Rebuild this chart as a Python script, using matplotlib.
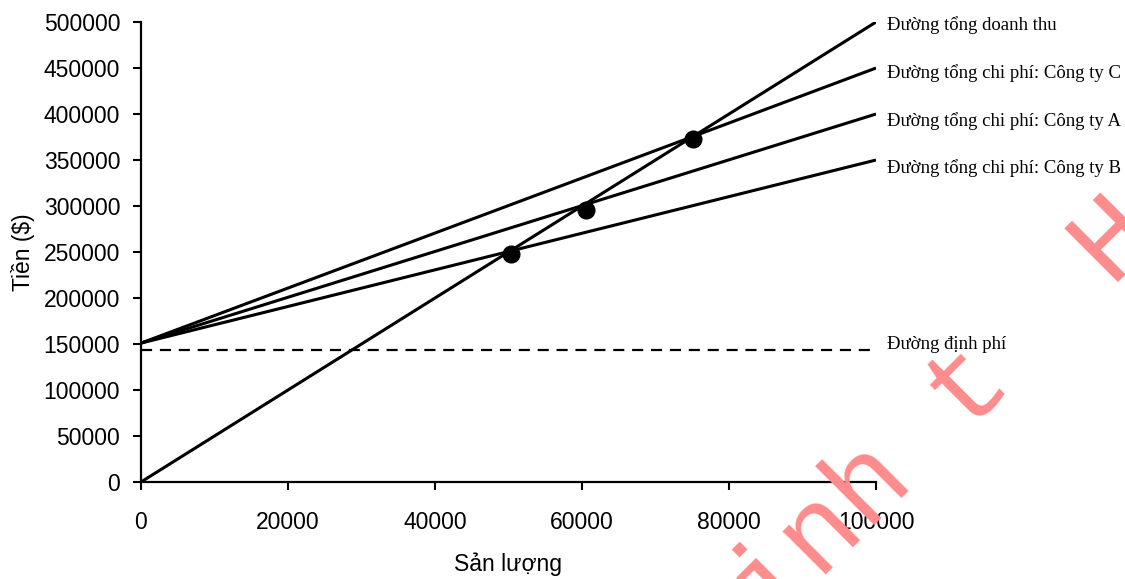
import matplotlib
matplotlib.use("Agg")
import matplotlib.pyplot as plt
import numpy as np

# ---- data ----
quantity = [0, 100000]
revenue = [0, 500000]
cost_C = [151000, 450000]
cost_A = [151000, 400000]
cost_B = [151000, 350000]
fixed_cost = [143000, 143000]
break_even_x = [50400, 60500, 75100]
break_even_y = [247500, 296000, 372500]
labels = ["Đường tổng doanh thu", "Đường tổng chi phí: Công ty C",
          "Đường tổng chi phí: Công ty A", "Đường tổng chi phí: Công ty B",
          "Đường định phí"]
xticks = [0, 20000, 40000, 60000, 80000, 100000]
yticks = list(range(0, 500001, 50000))

fig = plt.figure(figsize=(11.25, 5.79), dpi=100)
ax = fig.add_axes([0.1253, 0.1675, 0.6534, 0.7945])

lw = 2.2
ax.plot(quantity, revenue, color="black", lw=lw, solid_capstyle="butt")
ax.plot(quantity, cost_C, color="black", lw=lw, solid_capstyle="butt")
ax.plot(quantity, cost_A, color="black", lw=lw, solid_capstyle="butt")
ax.plot(quantity, cost_B, color="black", lw=lw, solid_capstyle="butt")
ax.plot(quantity, fixed_cost, color="black", lw=1.6, linestyle=(0, (5, 3.5)))
ax.plot(break_even_x, break_even_y, "o", color="black", markersize=12, zorder=5)

ax.set_xlim(0, 100000)
ax.set_ylim(0, 500000)
ax.set_xticks(xticks)
ax.set_yticks(yticks)
for s in ["top", "right"]:
    ax.spines[s].set_visible(False)
for s in ["left", "bottom"]:
    ax.spines[s].set_linewidth(1.6)
ax.tick_params(axis="both", direction="out", length=6, width=1.5)
ax.tick_params(axis="y", pad=9)
ax.tick_params(axis="x", pad=15)
for t in ax.get_xticklabels() + ax.get_yticklabels():
    t.set_fontfamily("Liberation Sans")
    t.set_fontsize(16.5)
ax.set_xlabel("Sản lượng", fontfamily="Liberation Sans", fontsize=16.5, labelpad=13)
ax.set_ylabel("Tiền ($)", fontfamily="Liberation Sans", fontsize=16.5, labelpad=6)

ends = [revenue[-1], cost_C[-1], cost_A[-1], cost_B[-1], fixed_cost[-1]]
offs = [-2, -4, -5, -6, 4]
for lab, yv, o in zip(labels, ends, offs):
    ax.annotate(lab, xy=(quantity[-1], yv), xytext=(8, o), textcoords="offset points",
                ha="left", va="center", fontfamily="Liberation Serif", fontsize=13.5,
                annotation_clip=False)

# watermark
fig.text(0.641, -0.174, "Kinh t  H", color="#FF8C8C", fontsize=83,
         fontfamily="Liberation Mono", rotation=45, rotation_mode="anchor",
         ha="left", va="baseline", zorder=10)

fig.savefig("out.png", dpi=100)
